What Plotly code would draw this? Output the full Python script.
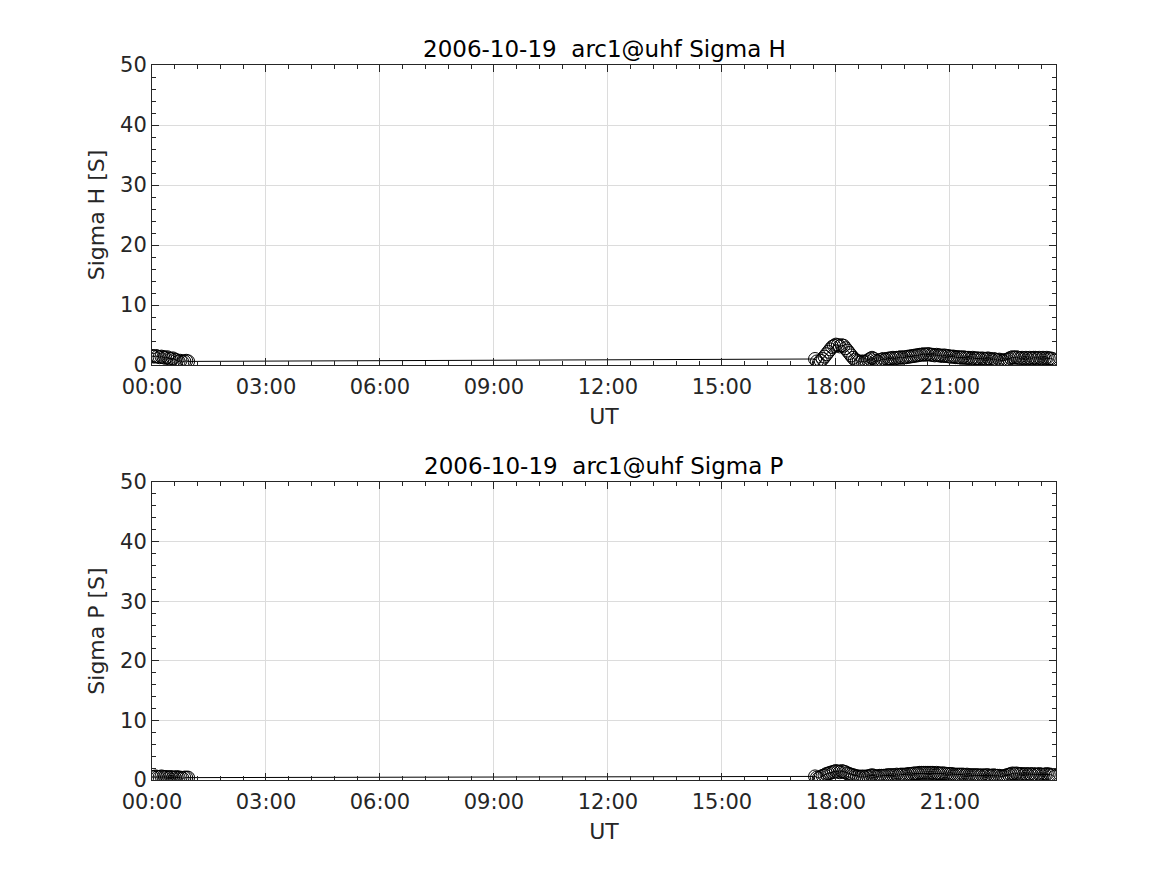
import pandas as pd
import plotly.graph_objects as go

day = "2006-10-19"
title_h = "2006-10-19  arc1@uhf Sigma H"
title_p = "2006-10-19  arc1@uhf Sigma P"

# sample times: two observing blocks, 3-minute cadence
block1_start = "2006-10-19 00:00"
block2_start = "2006-10-19 17:27"

sigma_h_block1 = [1.5, 1.4, 1.5, 1.4, 1.3, 1.4, 1.3, 1.2, 1.3, 1.1,
                  1.0, 1.1, 0.9, 0.8, 0.6, 0.7, 0.5, 0.6, 0.7, 0.6]
sigma_p_block1 = [0.5, 0.5, 0.6, 0.5, 0.5, 0.6, 0.5, 0.5, 0.5, 0.4,
                  0.5, 0.4, 0.4, 0.5, 0.4, 0.4, 0.3, 0.4, 0.4, 0.4]

sigma_h_block2 = [1.0, 0.6, 0.3, 0.7, 1.0, 1.4, 1.8, 2.2, 2.6, 3.0,
                  3.2, 3.4, 3.3, 3.1, 3.3, 3.2, 2.8, 2.4, 2.0, 1.6,
                  1.2, 0.9, 0.7, 0.6, 0.5, 0.6, 0.5, 0.6, 0.8, 1.0,
                  1.2, 1.0, 0.7, 0.6, 0.8, 0.9, 1.0, 0.9, 1.0, 1.1,
                  1.1, 1.2, 1.1, 1.2, 1.2, 1.3, 1.2, 1.3, 1.3, 1.4,
                  1.4, 1.5, 1.5, 1.6, 1.6, 1.7, 1.7, 1.8, 1.7, 1.8,
                  1.8, 1.7, 1.7, 1.6, 1.7, 1.6, 1.6, 1.5, 1.6, 1.5,
                  1.5, 1.4, 1.4, 1.4, 1.3, 1.3, 1.3, 1.2, 1.3, 1.2,
                  1.2, 1.2, 1.1, 1.2, 1.1, 1.1, 1.1, 1.0, 1.1, 1.0,
                  1.0, 1.1, 1.0, 0.9, 1.0, 0.9, 0.8, 0.9, 0.8, 0.7,
                  0.8, 0.9, 1.0, 1.2, 1.3, 1.2, 1.3, 1.2, 1.1, 1.2,
                  1.1, 1.2, 1.1, 1.2, 1.1, 1.2, 1.2, 1.1, 1.2, 1.1,
                  1.2, 1.1, 1.2, 1.1, 1.1, 1.0, 0.7]
sigma_p_block2 = [0.6, 0.4, 0.3, 0.5, 0.7, 0.8, 1.0, 1.1, 1.2, 1.3,
                  1.4, 1.5, 1.4, 1.3, 1.5, 1.4, 1.3, 1.1, 1.0, 0.9,
                  0.8, 0.7, 0.6, 0.6, 0.5, 0.6, 0.5, 0.6, 0.6, 0.7,
                  0.8, 0.7, 0.6, 0.6, 0.7, 0.7, 0.7, 0.7, 0.8, 0.8,
                  0.8, 0.8, 0.8, 0.9, 0.8, 0.9, 0.9, 0.9, 0.9, 1.0,
                  1.0, 1.0, 1.1, 1.1, 1.1, 1.2, 1.2, 1.2, 1.2, 1.2,
                  1.2, 1.2, 1.2, 1.1, 1.2, 1.1, 1.1, 1.1, 1.1, 1.0,
                  1.0, 1.0, 1.0, 0.9, 0.9, 0.9, 0.9, 0.9, 0.9, 0.8,
                  0.9, 0.8, 0.8, 0.8, 0.8, 0.8, 0.8, 0.7, 0.8, 0.7,
                  0.8, 0.8, 0.7, 0.7, 0.8, 0.7, 0.7, 0.7, 0.6, 0.6,
                  0.7, 0.8, 0.9, 1.0, 1.1, 1.0, 1.1, 1.0, 1.0, 1.0,
                  0.9, 1.0, 0.9, 1.0, 0.9, 1.0, 0.9, 0.9, 1.0, 0.9,
                  0.9, 0.9, 1.0, 0.9, 0.9, 0.8, 0.5]

t1 = list(pd.date_range(block1_start, periods=len(sigma_h_block1), freq="3min"))
t2 = list(pd.date_range(block2_start, periods=len(sigma_h_block2), freq="3min"))
times = t1 + t2
sigma_h = sigma_h_block1 + sigma_h_block2
sigma_p = sigma_p_block1 + sigma_p_block2

font_family = "DejaVu Sans"
txt = "#262626"
fs = 21
fs_title = 23
fs_label = 22

fig = go.Figure()
common = dict(mode="lines+markers",
              line=dict(color="black", width=1),
              marker=dict(symbol="circle-open", size=13, color="black",
                          line=dict(width=1, color="black")),
              showlegend=False)
fig.add_trace(go.Scatter(x=times, y=sigma_h, xaxis="x", yaxis="y", **common))
fig.add_trace(go.Scatter(x=times, y=sigma_p, xaxis="x2", yaxis="y2", **common))

xrange = ["2006-10-19 00:00:00", "2006-10-19 23:47:30"]
xax = dict(type="date", range=xrange, tickformat="%H:%M",
           tick0="2006-10-19 00:00", dtick=3 * 3600 * 1000,
           ticks="inside", ticklen=7, tickwidth=1, tickcolor=txt,
           ticklabelstandoff=3,
           minor=dict(ticks="inside", ticklen=4, dtick=36 * 60 * 1000,
                      tick0="2006-10-19 00:00", tickcolor=txt, showgrid=False),
           showgrid=True, gridcolor="#dcdcdc", gridwidth=1,
           showline=True, linecolor=txt, linewidth=1, mirror="ticks",
           tickfont=dict(family=font_family, size=fs, color=txt),
           title=dict(text="UT", font=dict(family=font_family, size=fs_label, color=txt), standoff=10),
           zeroline=False)
yax = dict(range=[0, 50], tick0=0, dtick=10,
           ticks="inside", ticklen=7, tickwidth=1, tickcolor=txt,
           minor=dict(ticks="inside", ticklen=4, dtick=2, tickcolor=txt, showgrid=False),
           showgrid=True, gridcolor="#dcdcdc", gridwidth=1,
           showline=True, linecolor=txt, linewidth=1, mirror="ticks",
           tickfont=dict(family=font_family, size=fs, color=txt),
           zeroline=False)

fig.update_layout(
    width=1167, height=875,
    paper_bgcolor="white", plot_bgcolor="white",
    margin=dict(l=144, r=119, t=57, b=103),
    xaxis=dict(domain=[0, 1], anchor="y", **xax),
    yaxis=dict(domain=[0.5804, 1.0], anchor="x",
               title=dict(text="Sigma H [S]", font=dict(family=font_family, size=fs_label, color=txt), standoff=9),
               **yax),
    xaxis2=dict(domain=[0, 1], anchor="y2", **xax),
    yaxis2=dict(domain=[0.0, 0.4168], anchor="x2",
                title=dict(text="Sigma P [S]", font=dict(family=font_family, size=fs_label, color=txt), standoff=9),
                **yax),
    annotations=[
        dict(text=title_h, xref="paper", yref="paper", x=0.5, y=1.0, yshift=1,
             xanchor="center", yanchor="bottom", showarrow=False,
             font=dict(family=font_family, size=fs_title, color="black")),
        dict(text=title_p, xref="paper", yref="paper", x=0.5, y=0.4168, yshift=1,
             xanchor="center", yanchor="bottom", showarrow=False,
             font=dict(family=font_family, size=fs_title, color="black")),
    ],
)

fig.write_html("out.html")
